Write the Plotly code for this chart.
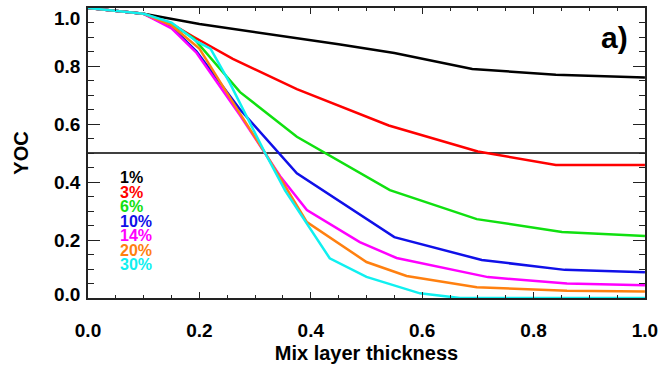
import plotly.graph_objects as go

labels = ["1%", "3%", "6%", "10%", "14%", "20%", "30%"]
colors = ["#000000", "#FF0000", "#10E010", "#1010E8", "#FF00FF", "#FF8010", "#10F0F0"]

x_1 = [0.0, 0.1, 0.2, 0.32, 0.45, 0.55, 0.69, 0.84, 1.0]
y_1 = [1.0, 0.98, 0.945, 0.912, 0.875, 0.845, 0.79, 0.77, 0.76]

x_3 = [0.0, 0.1, 0.15, 0.19, 0.26, 0.375, 0.54, 0.7, 0.84, 1.0]
y_3 = [1.0, 0.98, 0.945, 0.90, 0.825, 0.72, 0.595, 0.505, 0.459, 0.459]

x_6 = [0.0, 0.1, 0.15, 0.19, 0.273, 0.375, 0.542, 0.698, 0.851, 1.0]
y_6 = [1.0, 0.98, 0.945, 0.895, 0.71, 0.556, 0.372, 0.272, 0.228, 0.214]

x_10 = [0.0, 0.1, 0.15, 0.195, 0.273, 0.375, 0.55, 0.707, 0.856, 1.0]
y_10 = [1.0, 0.98, 0.935, 0.85, 0.65, 0.43, 0.21, 0.131, 0.097, 0.089]

x_14 = [0.0, 0.1, 0.15, 0.195, 0.273, 0.345, 0.393, 0.488, 0.554, 0.718, 0.86, 1.0]
y_14 = [1.0, 0.98, 0.93, 0.845, 0.63, 0.42, 0.303, 0.193, 0.138, 0.072, 0.05, 0.044]

x_20 = [0.0, 0.1, 0.15, 0.2, 0.255, 0.318, 0.393, 0.5, 0.572, 0.698, 0.86, 1.0]
y_20 = [1.0, 0.98, 0.94, 0.86, 0.69, 0.5, 0.262, 0.124, 0.076, 0.037, 0.025, 0.022]

x_30 = [0.0, 0.1, 0.15, 0.195, 0.22, 0.255, 0.318, 0.354, 0.434, 0.5, 0.596, 0.668, 1.0]
y_30 = [1.0, 0.98, 0.95, 0.885, 0.86, 0.74, 0.5, 0.37, 0.137, 0.073, 0.016, 0.0, 0.0]

xs = [x_1, x_3, x_6, x_10, x_14, x_20, x_30]
ys = [y_1, y_3, y_6, y_10, y_14, y_20, y_30]

ref_level = 0.5
x_ticks = [0.0, 0.2, 0.4, 0.6, 0.8, 1.0]
y_ticks = [0.0, 0.2, 0.4, 0.6, 0.8, 1.0]

FONT = "Liberation Sans"
tick_font = dict(family=FONT, size=19, color="#000000", weight="bold")

fig = go.Figure()
fig.add_trace(go.Scatter(x=[0, 1], y=[ref_level, ref_level], mode="lines",
                         line=dict(color="#000000", width=1.5), showlegend=False))
for x, y, c, lab in zip(xs, ys, colors, labels):
    fig.add_trace(go.Scatter(x=x, y=y, mode="lines", name=lab,
                             line=dict(color=c, width=2.5), showlegend=False))

for i, (lab, c) in enumerate(zip(labels, colors)):
    fig.add_annotation(x=0.053, y=0.415 - 0.05 * i, xref="x", yref="y",
                       text=lab, showarrow=False, xanchor="left", yanchor="middle",
                       font=dict(family=FONT, size=16, color=c, weight="bold"))

fig.add_annotation(x=0.945, y=0.9, xref="x", yref="y", text="a)", showarrow=False,
                   xanchor="center", yanchor="middle",
                   font=dict(family=FONT, size=30, color="#000000", weight="bold"))

# y tick labels: end labels are nudged inward (as in the original IDL-style plot)
y_ticktext = ["" if v in (y_ticks[0], y_ticks[-1]) else f"{v:.1f}" for v in y_ticks]
for v, shift in ((y_ticks[-1], -10), (y_ticks[0], 4)):
    fig.add_annotation(x=0, y=v, xref="paper", yref="y", text=f"{v:.1f}",
                       showarrow=False, xanchor="right", yanchor="middle",
                       xshift=-6, yshift=shift, font=tick_font)

axis_common = dict(showgrid=False, zeroline=False, showline=True, linecolor="#222222",
                   linewidth=1.5, mirror="allticks", ticklabeloverflow="allow",
                   automargin=False, tickfont=tick_font,
                   tickcolor="#222222", tickwidth=1.3, ticks="inside")

fig.update_xaxes(range=[0, 1.0001], tickvals=x_ticks, tickformat=".1f", ticklen=6,
                 minor=dict(ticks="inside", dtick=0.05, ticklen=3, tickcolor="#222222"),
                 ticklabelstandoff=14,
                 title=dict(text="Mix layer thickness", standoff=6,
                            font=dict(family=FONT, size=20, color="#000000", weight="bold")),
                 **axis_common)
fig.update_yaxes(range=[0, 1.0001], tickvals=y_ticks, ticktext=y_ticktext, ticklen=12,
                 minor=dict(ticks="inside", dtick=0.05, ticklen=6, tickcolor="#222222"),
                 ticklabelstandoff=2,
                 title=dict(text="YOC", standoff=20,
                            font=dict(family=FONT, size=20, color="#000000", weight="bold")),
                 **axis_common)

fig.update_layout(width=664, height=371, margin=dict(l=88, r=19, t=8, b=73),
                  plot_bgcolor="white", paper_bgcolor="white")

fig.write_html("out.html")
